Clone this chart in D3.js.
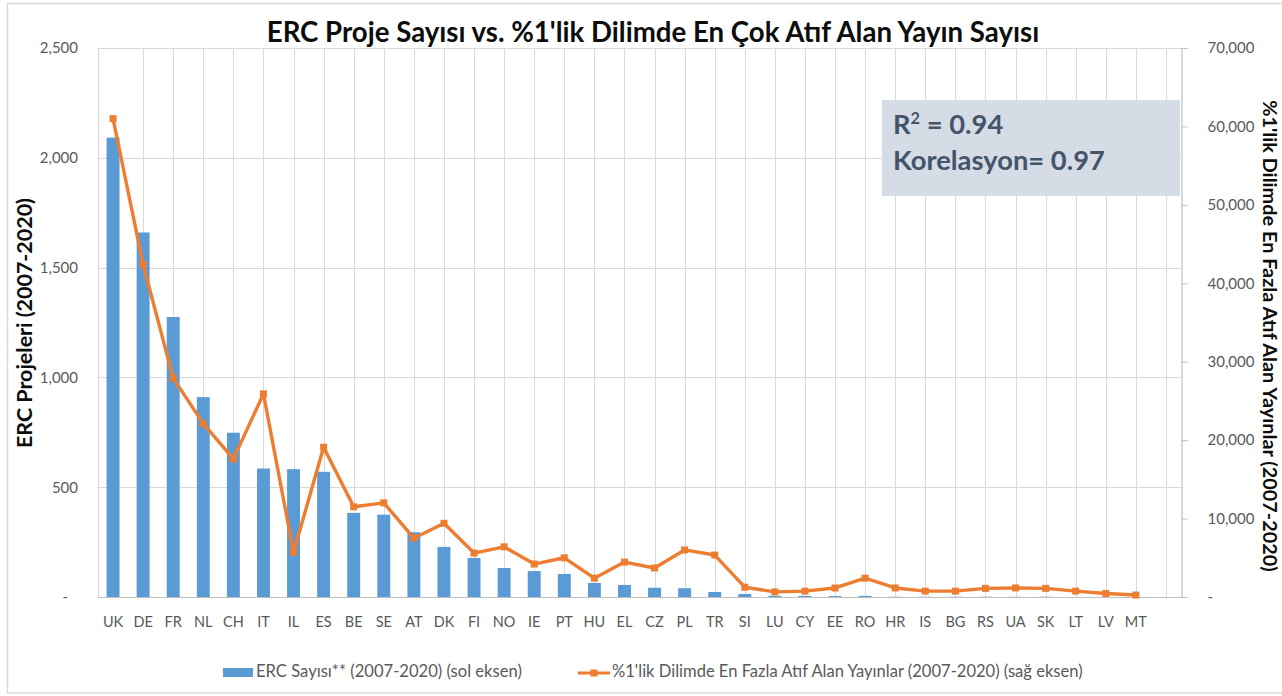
<!DOCTYPE html>
<html>
<head>
<meta charset="utf-8">
<script src="https://cdn.jsdelivr.net/npm/d3@7"></script>
<style>
  html, body { margin: 0; padding: 0; background: #ffffff; }
  svg { display: block; font-family: Lato, "Open Sans", sans-serif; }
</style>
</head>
<body>
<svg id="chart" width="1282" height="696"></svg>
<script>
// ---- data ----
const countries = ["UK","DE","FR","NL","CH","IT","IL","ES","BE","SE","AT","DK","FI","NO","IE","PT","HU","EL","CZ","PL","TR","SI","LU","CY","EE","RO","HR","IS","BG","RS","UA","SK","LT","LV","MT"];
const ercProjects = [2092,1660,1275,910,748,585,582,570,383,375,295,228,178,132,118,105,64,55,42,40,23,14,5,5,4,5,1,1,1,1,1,1,0,0,0];
const topCitedPubs = [61000,42400,27900,22100,17600,25900,5700,19100,11500,12000,7500,9400,5600,6400,4200,5000,2400,4450,3700,6000,5350,1250,650,750,1150,2400,1150,750,750,1100,1150,1100,750,450,250];
const leftTicks = [0,500,1000,1500,2000,2500];
const rightTicks = [0,10000,20000,30000,40000,50000,60000,70000];
const titleText = "ERC Proje Sayısı vs. %1'lik Dilimde En Çok Atıf Alan Yayın Sayısı";
const leftAxisTitle = "ERC Projeleri (2007-2020)";
const rightAxisTitle = "%1'lik Dilimde En Fazla Atıf Alan Yayınlar (2007-2020)";
const barLegend = "ERC Sayısı** (2007-2020) (sol eksen)";
const lineLegend = "%1'lik Dilimde En Fazla Atıf Alan Yayınlar (2007-2020) (sağ eksen)";
const statLines = ["R", " = 0.94", "Korelasyon= 0.97"];

// ---- layout ----
const plot = {left: 98, right: 1181, top: 48, bottom: 597};
const slots = countries.length + 1; // one empty trailing slot as in the reference
const step = (plot.right - plot.left) / slots;
const BLUE = "#5b9bd5", ORANGE = "#ed7d31", GRID = "#d9d9d9", AXIS = "#bfbfbf", TICK = "#595959";

const svg = d3.select("#chart");

const x = d3.scaleBand()
  .domain(countries)
  .range([plot.left, plot.left + countries.length * step])
  .paddingInner(0.57).paddingOuter(0.285);
const cx = c => x(c) + x.bandwidth() / 2;
const yL = d3.scaleLinear().domain([0, 2500]).range([plot.bottom, plot.top]);
const yR = d3.scaleLinear().domain([0, 70000]).range([plot.bottom, plot.top]);

function fitWidth(sel, target) {
  const w = sel.node().getComputedTextLength();
  const fs = parseFloat(sel.attr("font-size"));
  if (w > 0) sel.attr("font-size", fs * target / w);
  return sel;
}

// outer border
svg.append("rect").attr("x", 7.5).attr("y", 3.5).attr("width", 1300).attr("height", 689.5)
  .attr("fill", "none").attr("stroke", "#d9d9d9").attr("stroke-width", 1.5);

// horizontal gridlines
svg.append("g").selectAll("line").data(leftTicks.filter(d => d > 0)).join("line")
  .attr("x1", plot.left).attr("x2", plot.right)
  .attr("y1", d => Math.round(yL(d)) + 0.5).attr("y2", d => Math.round(yL(d)) + 0.5)
  .attr("stroke", GRID).attr("stroke-width", 1.2);

// vertical gridlines (category centres from the second slot on, plus the empty slot)
const vIdx = d3.range(1, slots);
svg.append("g").selectAll("line").data(vIdx).join("line")
  .attr("x1", i => Math.round(plot.left + (i + 0.5) * step) + 0.5)
  .attr("x2", i => Math.round(plot.left + (i + 0.5) * step) + 0.5)
  .attr("y1", plot.top).attr("y2", plot.bottom)
  .attr("stroke", GRID).attr("stroke-width", 1);

// left axis line
svg.append("line").attr("x1", plot.left + 0.5).attr("x2", plot.left + 0.5)
  .attr("y1", plot.top).attr("y2", plot.bottom).attr("stroke", GRID).attr("stroke-width", 1.2);

// bars
svg.append("g").selectAll("rect").data(countries).join("rect")
  .attr("x", c => x(c))
  .attr("width", x.bandwidth())
  .attr("y", (c, i) => yL(ercProjects[i]))
  .attr("height", (c, i) => plot.bottom - yL(ercProjects[i]))
  .attr("fill", BLUE);

// bottom axis line
svg.append("line").attr("x1", plot.left).attr("x2", plot.right)
  .attr("y1", plot.bottom + 0.5).attr("y2", plot.bottom + 0.5).attr("stroke", AXIS).attr("stroke-width", 1.2);

// right axis
const rAxis = d3.axisRight(yR).tickValues(rightTicks).tickSize(6).tickPadding(20)
  .tickFormat(d => d === 0 ? "-" : d3.format(",")(d));
const gR = svg.append("g").attr("transform", `translate(${plot.right + 0.5},0)`).call(rAxis);
gR.select(".domain").attr("stroke", AXIS).attr("stroke-width", 1.2);
gR.selectAll(".tick line").attr("stroke", AXIS);
gR.selectAll(".tick text").attr("fill", TICK).attr("font-size", 15)
  .attr("font-family", "Lato, sans-serif");

// left axis labels
const lAxis = d3.axisLeft(yL).tickValues(leftTicks).tickSize(0).tickPadding(20)
  .tickFormat(d => d === 0 ? "-" : d3.format(",")(d));
const gL = svg.append("g").attr("transform", `translate(${plot.left},0)`).call(lAxis);
gL.select(".domain").remove();
gL.selectAll(".tick text").attr("fill", TICK).attr("font-size", 15)
  .attr("font-family", "Lato, sans-serif")
  .attr("dx", d => d === 0 ? -10 : 0);

// x labels
svg.append("g").selectAll("text").data(countries).join("text")
  .attr("x", c => cx(c)).attr("y", 627)
  .attr("text-anchor", "middle").attr("font-size", 14.5).attr("fill", TICK)
  .text(c => c);

// line series
const line = d3.line().x((d, i) => cx(countries[i])).y(d => yR(d));
svg.append("path").datum(topCitedPubs).attr("d", line)
  .attr("fill", "none").attr("stroke", ORANGE).attr("stroke-width", 3.4)
  .attr("stroke-linejoin", "round");
svg.append("g").selectAll("rect").data(topCitedPubs).join("rect")
  .attr("x", (d, i) => cx(countries[i]) - 3.5).attr("y", d => yR(d) - 3.5)
  .attr("width", 7).attr("height", 7).attr("fill", ORANGE);

// stats box
svg.append("rect").attr("x", 882).attr("y", 100).attr("width", 298).attr("height", 96)
  .attr("fill", "#d6dce5");
const s1 = svg.append("text").attr("x", 893).attr("y", 134).attr("font-weight", 700)
  .attr("font-size", 24).attr("fill", "#44546a");
s1.append("tspan").text(statLines[0]);
s1.append("tspan").attr("font-size", "0.6em").attr("dy", -9).text("2");
s1.append("tspan").attr("dy", 9).text(statLines[1]);
const s2 = svg.append("text").attr("x", 893).attr("y", 170).attr("font-weight", 700)
  .attr("font-size", 24).attr("fill", "#44546a").text(statLines[2]);
const s2fs0 = 24;
fitWidth(s2, 212);
const k = parseFloat(s2.attr("font-size")) / s2fs0;
s1.attr("font-size", 24 * k);
s1.selectAll("tspan").filter((d, i) => i === 1).attr("dy", -9 * k);
s1.selectAll("tspan").filter((d, i) => i === 2).attr("dy", 9 * k);

// title
const t = svg.append("text").attr("x", 653).attr("y", 42).attr("text-anchor", "middle")
  .attr("font-weight", 700).attr("font-size", 22).attr("fill", "#0d0d0d").text(titleText);
fitWidth(t, 773);

// axis titles
const lt = svg.append("text").attr("transform", "translate(32,323) rotate(-90)")
  .attr("text-anchor", "middle").attr("font-weight", 700).attr("font-size", 17)
  .attr("fill", "#0d0d0d").text(leftAxisTitle);
fitWidth(lt, 250);
const rt = svg.append("text").attr("transform", "translate(1263,336) rotate(90)")
  .attr("text-anchor", "middle").attr("font-weight", 700).attr("font-size", 15)
  .attr("fill", "#0d0d0d").text(rightAxisTitle);
fitWidth(rt, 472);

// legend
svg.append("rect").attr("x", 223).attr("y", 668).attr("width", 30).attr("height", 9).attr("fill", BLUE);
const lg1 = svg.append("text").attr("x", 256).attr("y", 677).attr("font-size", 13)
  .attr("fill", TICK).text(barLegend);
fitWidth(lg1, 266);
svg.append("line").attr("x1", 578).attr("x2", 610).attr("y1", 673).attr("y2", 673)
  .attr("stroke", ORANGE).attr("stroke-width", 3);
svg.append("rect").attr("x", 590.5).attr("y", 669.5).attr("width", 7).attr("height", 7).attr("fill", ORANGE);
const lg2 = svg.append("text").attr("x", 612).attr("y", 677).attr("font-size", 13)
  .attr("fill", TICK).text(lineLegend);
fitWidth(lg2, 471);
</script>
</body>
</html>
